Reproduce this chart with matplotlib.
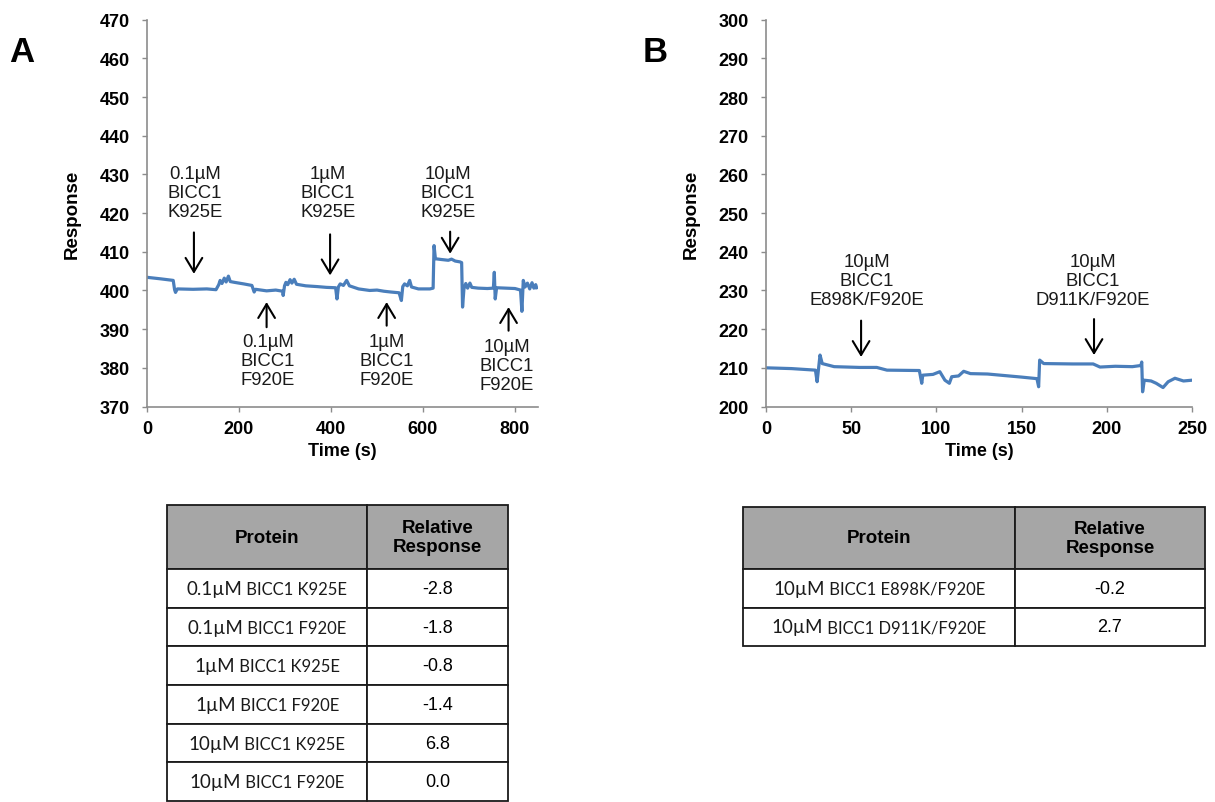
import numpy as np
import matplotlib.pyplot as plt
from matplotlib.offsetbox import TextArea, HPacker, AnnotationBbox

plt.rcParams['font.family'] = ['Liberation Sans', 'DejaVu Sans']

# panel A trace (time s, response)
time_a = [0, 30, 57, 60, 62, 66, 100, 130, 150, 156, 159, 163, 168, 172, 177, 181,
          190, 210, 228, 233, 236, 260, 280, 295, 296, 299, 302, 306, 311, 315, 320,
          325, 345, 370, 390, 410, 413, 416, 420, 427, 434, 440, 460, 484, 500, 515,
          530, 548, 553, 556, 560, 566, 571, 575, 590, 615, 622, 624, 627, 640, 655,
          662, 670, 680, 684, 686, 689, 693, 697, 702, 706, 720, 740, 753, 755, 757,
          760, 780, 800, 812, 815, 818, 822, 827, 832, 837, 841, 845, 847]
resp_a = [403.4, 403.0, 402.6, 400.2, 399.5, 400.4, 400.3, 400.4, 400.2, 401.5, 402.6,
          401.8, 403.2, 402.2, 403.7, 402.3, 402.1, 401.7, 401.3, 399.6, 400.3, 399.9,
          400.1, 399.8, 398.7, 401.2, 402.1, 401.5, 402.8, 401.9, 402.9, 401.6, 401.2,
          401.0, 400.8, 400.7, 397.8, 400.9, 401.7, 401.3, 402.6, 401.2, 400.4, 400.0,
          400.1, 399.8, 399.6, 399.4, 397.4, 401.0, 401.7, 401.2, 402.6, 400.9, 400.4,
          400.4, 400.6, 411.6, 408.2, 408.0, 407.8, 408.1, 407.6, 407.4, 407.2, 395.7,
          400.4, 401.8, 400.6, 401.9, 400.8, 400.6, 400.5, 400.6, 404.7, 397.8, 400.7,
          400.6, 400.5, 400.1, 394.6, 402.6, 400.9, 401.9, 400.4, 402.0, 400.6, 401.5,
          400.7]

# panel B trace
time_b = [0, 15, 29, 30, 31.7, 33, 40, 55, 65, 71, 90, 91.4, 92, 98, 102, 105, 107.6,
          109, 113, 116, 120, 130, 140, 150, 159, 160, 160.6, 163, 180, 192, 196, 205,
          215, 220, 220.5, 221, 222, 226, 229, 233, 236, 240, 245, 250]
resp_b = [210.0, 209.8, 209.4, 206.4, 213.3, 211.1, 210.3, 210.1, 210.1, 209.4, 209.3,
          206.0, 208.1, 208.3, 209.0, 206.8, 206.0, 207.7, 207.9, 209.1, 208.5, 208.4,
          208.0, 207.6, 207.2, 205.1, 212.0, 211.1, 211.0, 211.0, 210.2, 210.4, 210.3,
          210.6, 211.5, 203.8, 206.8, 206.6, 206.0, 204.9, 206.4, 207.3, 206.6, 206.8]

# annotations: label, arrow x, arrow tail y, arrow tip y, text x, text y (middle line)
notes_a = [("0.1µM\nBICC1\nK925E", 102, 415.0, 404.3, 104, 425.3),
           ("1µM\nBICC1\nK925E", 398, 414.5, 403.9, 393, 425.3),
           ("10µM\nBICC1\nK925E", 659, 415.2, 409.5, 654, 425.3),
           ("0.1µM\nBICC1\nF920E", 260, 390.5, 397.0, 263, 381.9),
           ("1µM\nBICC1\nF920E", 521, 390.9, 397.0, 521, 381.9),
           ("10µM\nBICC1\nF920E", 786, 389.6, 395.7, 782, 380.6)]
notes_b = [("10µM\nBICC1\nE898K/F920E", 55.8, 222.2, 212.8, 59, 232.5),
           ("10µM\nBICC1\nD911K/F920E", 192.5, 222.6, 213.3, 192, 232.5)]

# tables
table_a_conc = ["0.1µM", "0.1µM", "1µM", "1µM", "10µM", "10µM"]
table_a_prot = ["BICC1 K925E", "BICC1 F920E", "BICC1 K925E", "BICC1 F920E",
                "BICC1 K925E", "BICC1 F920E"]
table_a_vals = ["-2.8", "-1.8", "-0.8", "-1.4", "6.8", "0.0"]
table_b_conc = ["10µM", "10µM"]
table_b_prot = ["BICC1 E898K/F920E", "BICC1 D911K/F920E"]
table_b_vals = ["-0.2", "2.7"]

line_col = '#4a7ebb'
axis_col = '#8c8c8c'

fig = plt.figure(figsize=(12.15, 8.03), dpi=100)
W, H = 1215.0, 803.0


def style_axes(ax):
    for s in ['top', 'right']:
        ax.spines[s].set_visible(False)
    for s in ['left', 'bottom']:
        ax.spines[s].set_color(axis_col)
        ax.spines[s].set_linewidth(1.2)
    ax.tick_params(direction='out', length=3.6, width=1, color=axis_col, labelsize=13)
    ax.tick_params(axis='y', pad=9)
    ax.tick_params(axis='x', pad=6)
    for lab in ax.get_xticklabels() + ax.get_yticklabels():
        lab.set_fontweight('bold')
    ax.set_xlabel('Time (s)', fontsize=13, fontweight='bold', labelpad=4)
    ax.set_ylabel('Response', fontsize=13.5, fontweight='bold', labelpad=13)


def add_notes(ax, notes):
    for txt, ax_x, y0, y1, tx, ty in notes:
        ax.annotate('', xy=(ax_x, y1), xytext=(ax_x, y0),
                    arrowprops=dict(arrowstyle='->,head_length=0.5,head_width=0.3',
                                    color='black', lw=1.5, mutation_scale=20,
                                    shrinkA=0, shrinkB=0))
        ax.text(tx, ty, txt, ha='center', va='center', fontsize=13.3,
                linespacing=1.15, color='#1a1a1a')


ax_a = fig.add_axes([147 / W, 1 - 407.5 / H, (538 - 147) / W, (407.5 - 20.7) / H])
ax_a.plot(time_a, resp_a, color=line_col, lw=2.3, solid_joinstyle='round')
ax_a.set_xlim(0, 850)
ax_a.set_ylim(370, 470)
ax_a.set_xticks(np.arange(0, 801, 200))
ax_a.set_yticks(np.arange(370, 471, 10))
style_axes(ax_a)
add_notes(ax_a, notes_a)

ax_b = fig.add_axes([766 / W, 1 - 407.5 / H, (1192 - 766) / W, (407.5 - 20.7) / H])
ax_b.plot(time_b, resp_b, color=line_col, lw=2.3, solid_joinstyle='round')
ax_b.set_xlim(0, 250)
ax_b.set_ylim(200, 300)
ax_b.set_xticks(np.arange(0, 251, 50))
ax_b.set_yticks(np.arange(200, 301, 10))
style_axes(ax_b)
add_notes(ax_b, notes_b)

fig.text(22 / W, 1 - 52 / H, 'A', fontsize=25, fontweight='bold', ha='center', va='center')
fig.text(655 / W, 1 - 52 / H, 'B', fontsize=25, fontweight='bold', ha='center', va='center')


def draw_table(rect, conc, prot, vals, col_w, head_h, row_h):
    ax = fig.add_axes(rect)
    ax.axis('off')
    cell_text = [['', v] for v in vals]
    tab = ax.table(cellText=cell_text, colLabels=['Protein', 'Relative\nResponse'],
                   bbox=[0, 0, 1, 1], cellLoc='center')
    tab.auto_set_font_size(False)
    for (r, c), cell in tab.get_celld().items():
        cell.set_edgecolor('#1a1a1a')
        cell.set_linewidth(1.3)
        cell.set_width(col_w[c])
        if r == 0:
            cell.set_height(head_h)
            cell.set_facecolor('#a6a6a6')
            cell.get_text().set_fontweight('bold')
            cell.get_text().set_fontsize(13.5)
            cell.get_text().set_linespacing(1.1)
        else:
            cell.set_height(row_h)
            cell.get_text().set_fontsize(13)
    fig.canvas.draw()
    for i in range(len(vals)):
        cell = tab[i + 1, 0]
        cx = cell.get_x() + cell.get_width() / 2
        cy = cell.get_y() + cell.get_height() / 2
        box = HPacker(children=[TextArea(conc[i], textprops=dict(fontsize=13.5, family='Lato', color='#1a1a1a')),
                                TextArea(' ' + prot[i], textprops=dict(fontsize=12, family='Lato', color='#1a1a1a'))],
                      align='baseline', pad=0, sep=0)
        ab = AnnotationBbox(box, (cx, cy), xycoords=ax.transAxes, frameon=False,
                            box_alignment=(0.5, 0.5), pad=0)
        ax.add_artist(ab)
    return tab


draw_table([167 / W, 1 - 802 / H, (508 - 167) / W, (802 - 506) / H],
           table_a_conc, table_a_prot, table_a_vals, [200, 141], 64, 38.5)
draw_table([743 / W, 1 - 647 / H, (1205 - 743) / W, (647 - 508) / H],
           table_b_conc, table_b_prot, table_b_vals, [272, 190], 62, 38.5)

fig.savefig('out.png', dpi=100)
